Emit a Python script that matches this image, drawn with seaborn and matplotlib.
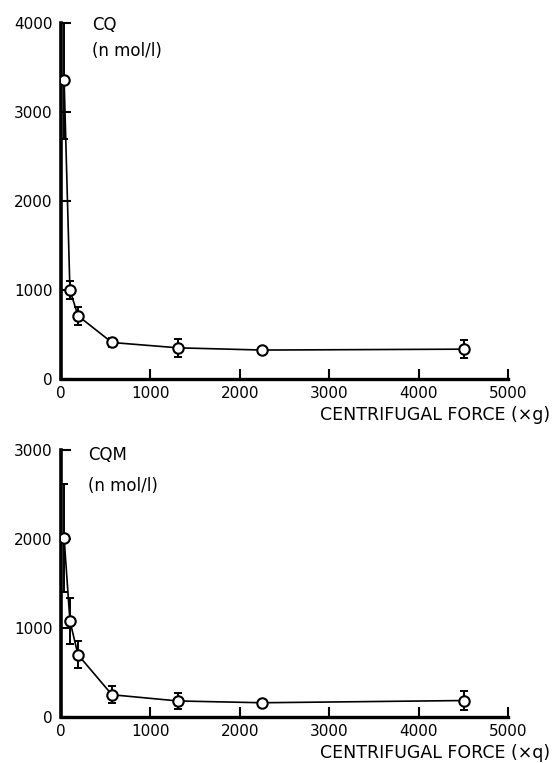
import numpy as np
import pandas as pd
import seaborn as sns
import matplotlib.pyplot as plt

# centrifugal force (x g) and concentrations (n mol/l)
force = [35, 100, 190, 570, 1310, 2250, 4510]
cq = [3360, 1000, 710, 410, 350, 325, 335]
cq_err = [660, 100, 100, 55, 100, 25, 100]
cqm = [2010, 1080, 700, 250, 180, 160, 185]
cqm_err = [610, 260, 155, 97, 95, 30, 106]

sns.set_style("ticks")
plt.rcParams["font.family"] = ["DejaVu Sans"]
plt.rcParams["text.color"] = "black"

fig = plt.figure(figsize=(5.59, 7.63), dpi=100)
ax1 = fig.add_axes([0.1091, 0.5033, 0.7996, 0.4666])
ax2 = fig.add_axes([0.1091, 0.0603, 0.7996, 0.3499])

# axes, values, errors, name, y max, x label, name x, px offsets
panels = [
    (ax1, cq, cq_err, "CQ", 4000, "CENTRIFUGAL FORCE (\u00d7g)", 0.069, (7, -19)),
    (ax2, cqm, cqm_err, "CQM", 3000, "CENTRIFUGAL FORCE (\u00d7q)", 0.060, (4, -27)),
]

for ax, vals, err, name, ymax, xlabel, nx, offs in panels:
    df = pd.DataFrame({"force": force, "conc": vals})
    ax.errorbar(force, vals, yerr=err, fmt="none", ecolor="black",
                elinewidth=1.4, capsize=3, capthick=1.4, zorder=2)
    sns.lineplot(data=df, x="force", y="conc", ax=ax, color="black",
                 linewidth=1.2, marker="o", markersize=7.5,
                 markerfacecolor="white", markeredgecolor="black",
                 markeredgewidth=1.5, zorder=3)
    ax.set_xlim(0, 5000)
    ax.set_ylim(0, ymax)
    ax.set_xticks(np.arange(0, 5001, 1000))
    ax.set_yticks(np.arange(0, ymax + 1, 1000))
    ax.set_xlabel("")
    ax.set_ylabel("")
    sns.despine(ax=ax)
    ax.spines["left"].set_linewidth(2.6)
    ax.spines["bottom"].set_linewidth(2.4)
    ax.spines["left"].set_color("black")
    ax.spines["bottom"].set_color("black")
    ax.tick_params(axis="both", direction="in", length=7, width=1.5,
                   labelsize=11, colors="black")
    ax.tick_params(axis="x", pad=5)
    ax.tick_params(axis="y", pad=6)
    h = ax.bbox.height
    ax.text(nx, 1 + offs[0] / h, name, transform=ax.transAxes,
            fontsize=12, va="top", ha="left")
    ax.text(nx, 1 + offs[1] / h, "(n mol/l)", transform=ax.transAxes,
            fontsize=12, va="top", ha="left")
    ax.text(1.0 + 42 / ax.bbox.width, -27 / h, xlabel, transform=ax.transAxes,
            fontsize=12.5, ha="right", va="top")

fig.savefig("out.png", dpi=100, facecolor="white")
